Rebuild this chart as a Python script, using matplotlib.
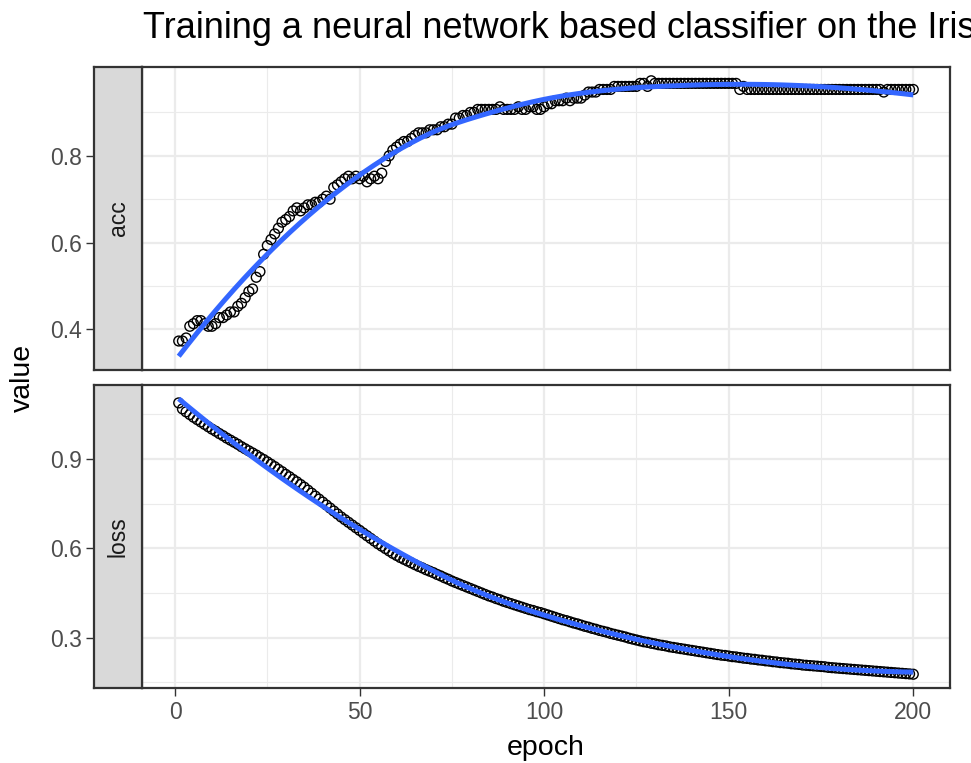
import numpy as np
import matplotlib
matplotlib.use("Agg")
import matplotlib.pyplot as plt

plt.rcParams['font.family'] = ['Liberation Sans', 'DejaVu Sans']

title = "Training a neural network based classifier on the Iris dataset"
x_label = "epoch"
y_label = "value"
metrics = ["acc", "loss"]

epochs = list(range(1, 201))

acc = [
    0.373, 0.373, 0.380, 0.407, 0.413, 0.420, 0.420, 0.413, 0.407, 0.407,
    0.413, 0.427, 0.427, 0.433, 0.440, 0.440, 0.453, 0.460, 0.473, 0.487,
    0.493, 0.520, 0.533, 0.573, 0.593, 0.607, 0.620, 0.633, 0.647, 0.653,
    0.660, 0.673, 0.680, 0.673, 0.680, 0.687, 0.687, 0.693, 0.693, 0.700,
    0.707, 0.700, 0.727, 0.733, 0.740, 0.747, 0.753, 0.747, 0.753, 0.747,
    0.753, 0.740, 0.747, 0.753, 0.747, 0.760, 0.787, 0.800, 0.813, 0.820,
    0.827, 0.833, 0.833, 0.840, 0.847, 0.853, 0.853, 0.853, 0.860, 0.860,
    0.860, 0.867, 0.867, 0.873, 0.873, 0.887, 0.887, 0.893, 0.893, 0.900,
    0.900, 0.907, 0.907, 0.907, 0.907, 0.907, 0.907, 0.913, 0.907, 0.907,
    0.907, 0.907, 0.913, 0.907, 0.907, 0.913, 0.913, 0.907, 0.907, 0.913,
    0.920, 0.920, 0.927, 0.927, 0.927, 0.933, 0.927, 0.933, 0.933, 0.933,
    0.940, 0.947, 0.947, 0.947, 0.953, 0.953, 0.953, 0.953, 0.960, 0.960,
    0.960, 0.960, 0.960, 0.960, 0.960, 0.967, 0.967, 0.960, 0.973, 0.967,
    0.967, 0.967, 0.967, 0.967, 0.967, 0.967, 0.967, 0.967, 0.967, 0.967,
    0.967, 0.967, 0.967, 0.967, 0.967, 0.967, 0.967, 0.967, 0.967, 0.967,
    0.967, 0.967, 0.953, 0.960, 0.953, 0.953, 0.953, 0.953, 0.953, 0.953,
    0.953, 0.953, 0.953, 0.953, 0.953, 0.953, 0.953, 0.953, 0.953, 0.953,
    0.953, 0.953, 0.953, 0.953, 0.953, 0.953, 0.953, 0.953, 0.953, 0.953,
    0.953, 0.953, 0.953, 0.953, 0.953, 0.953, 0.953, 0.953, 0.953, 0.953,
    0.953, 0.947, 0.953, 0.953, 0.953, 0.953, 0.953, 0.953, 0.953, 0.953,
]

loss = [
    1.088, 1.068, 1.058, 1.049, 1.040, 1.032, 1.024, 1.016, 1.008, 1.000,
    0.993, 0.985, 0.978, 0.970, 0.963, 0.956, 0.949, 0.941, 0.934, 0.927,
    0.920, 0.913, 0.905, 0.898, 0.890, 0.882, 0.874, 0.865, 0.857, 0.848,
    0.840, 0.831, 0.823, 0.814, 0.805, 0.795, 0.785, 0.775, 0.765, 0.755,
    0.745, 0.735, 0.725, 0.715, 0.705, 0.696, 0.687, 0.678, 0.669, 0.660,
    0.651, 0.642, 0.633, 0.624, 0.615, 0.607, 0.599, 0.591, 0.583, 0.576,
    0.569, 0.563, 0.557, 0.551, 0.545, 0.539, 0.534, 0.528, 0.523, 0.518,
    0.512, 0.507, 0.501, 0.496, 0.490, 0.485, 0.480, 0.475, 0.470, 0.465,
    0.460, 0.455, 0.450, 0.445, 0.440, 0.436, 0.431, 0.427, 0.422, 0.418,
    0.414, 0.410, 0.406, 0.402, 0.398, 0.394, 0.391, 0.387, 0.384, 0.380,
    0.376, 0.372, 0.368, 0.364, 0.360, 0.357, 0.353, 0.349, 0.346, 0.342,
    0.338, 0.335, 0.331, 0.328, 0.324, 0.321, 0.318, 0.314, 0.311, 0.308,
    0.305, 0.302, 0.298, 0.295, 0.292, 0.289, 0.286, 0.284, 0.281, 0.279,
    0.276, 0.274, 0.272, 0.269, 0.267, 0.265, 0.263, 0.261, 0.259, 0.257,
    0.255, 0.253, 0.251, 0.249, 0.247, 0.245, 0.243, 0.241, 0.240, 0.238,
    0.236, 0.235, 0.233, 0.231, 0.230, 0.228, 0.227, 0.225, 0.224, 0.222,
    0.221, 0.219, 0.218, 0.216, 0.215, 0.214, 0.212, 0.211, 0.210, 0.208,
    0.207, 0.206, 0.205, 0.204, 0.203, 0.202, 0.200, 0.199, 0.198, 0.197,
    0.196, 0.195, 0.194, 0.193, 0.192, 0.191, 0.190, 0.189, 0.188, 0.187,
    0.186, 0.185, 0.184, 0.183, 0.182, 0.181, 0.180, 0.179, 0.178, 0.177,
]

x_ticks = [0, 50, 100, 150, 200]
y_ticks = {"acc": [0.4, 0.6, 0.8], "loss": [0.3, 0.6, 0.9]}


def loess(x, y, xs, span=0.75):
    """Local quadratic regression with tricube weights (like R's loess)."""
    x = np.asarray(x, float)
    y = np.asarray(y, float)
    n = len(x)
    q = int(np.floor(span * n))
    out = []
    for x0 in xs:
        d = np.abs(x - x0)
        h = np.sort(d)[q - 1]
        w = np.clip(1 - (d / h) ** 3, 0, None) ** 3
        X = np.column_stack([np.ones(n), x - x0, (x - x0) ** 2])
        W = np.sqrt(w)
        beta, *_ = np.linalg.lstsq(X * W[:, None], y * W, rcond=None)
        out.append(beta[0])
    return np.array(out)


W_PX, H_PX = 971, 763
fig = plt.figure(figsize=(W_PX / 100, H_PX / 100), dpi=100)

strip_l, strip_r = 94, 142
pan_l, pan_r = 142, 950
panels = {"acc": (67, 370), "loss": (385, 688)}

def fx(px):
    return px / W_PX

def fy(py):
    return 1 - py / H_PX

grey20 = "#333333"
grid_c = "#EBEBEB"
xs_all = np.array(epochs, float)
xr = xs_all.max() - xs_all.min()
xlim = (xs_all.min() - 0.05 * xr, xs_all.max() + 0.05 * xr)

series = {"acc": acc, "loss": loss}
for i, m in enumerate(metrics):
    top, bot = panels[m]
    ax = fig.add_axes([fx(pan_l), fy(bot), fx(pan_r - pan_l), (bot - top) / H_PX])
    sax = fig.add_axes([fx(strip_l), fy(bot), fx(strip_r - strip_l), (bot - top) / H_PX], sharey=ax)

    vals = np.array(series[m], float)
    xs = np.linspace(min(epochs), max(epochs), 80)
    sm = loess(epochs, vals, xs)

    lo = min(vals.min(), sm.min())
    hi = max(vals.max(), sm.max())
    r = hi - lo
    ylim = (lo - 0.05 * r, hi + 0.05 * r)

    ax.set_facecolor("white")
    ax.set_xlim(*xlim)
    ax.set_ylim(*ylim)

    yt = y_ticks[m]
    step = yt[1] - yt[0]
    ext = [yt[0] - step] + yt + [yt[-1] + step]
    yminor = [(a + b) / 2 for a, b in zip(ext[:-1], ext[1:])]
    xext = [x_ticks[0] - 50] + x_ticks + [x_ticks[-1] + 50]
    xminor = [(a + b) / 2 for a, b in zip(xext[:-1], xext[1:])]

    for v in yminor:
        if ylim[0] < v < ylim[1]:
            ax.axhline(v, color=grid_c, lw=0.8, zorder=0)
    for v in xminor:
        if xlim[0] < v < xlim[1]:
            ax.axvline(v, color=grid_c, lw=0.8, zorder=0)
    for v in yt:
        ax.axhline(v, color=grid_c, lw=1.6, zorder=0)
    for v in x_ticks:
        ax.axvline(v, color=grid_c, lw=1.6, zorder=0)

    ax.scatter(epochs, vals, s=50, facecolors="none", edgecolors="black",
               linewidths=1.0, zorder=2)
    ax.plot(xs, sm, color="#3366FF", lw=3.6, zorder=3, solid_capstyle="butt")

    for sp in ax.spines.values():
        sp.set_color(grey20)
        sp.set_linewidth(1.6)
        sp.set_zorder(5)

    ax.tick_params(axis="y", left=False, labelleft=False)
    ax.set_yticks(yt)
    ax.set_xticks(x_ticks)
    if i == len(metrics) - 1:
        ax.tick_params(axis="x", direction="out", length=5.5, width=1.0,
                       color=grey20, labelsize=16.5, labelcolor="#4D4D4D", pad=4)
    else:
        ax.tick_params(axis="x", bottom=False, labelbottom=False)

    # strip with y axis on its left
    sax.set_facecolor("#D9D9D9")
    sax.set_xticks([])
    sax.tick_params(axis="y", direction="out", length=5.5, width=1.0,
                    color=grey20, labelsize=16.5, labelcolor="#4D4D4D", pad=3)
    sax.set_yticks(yt)
    sax.set_yticklabels([f"{v:g}" for v in yt])
    for sp in sax.spines.values():
        sp.set_color(grey20)
        sp.set_linewidth(1.6)
    sax.text(0.5, 0.5, m, transform=sax.transAxes, rotation=90,
             ha="center", va="center", fontsize=16.5, color="#1A1A1A")

fig.text(fx(143), fy(38), title, fontsize=26, ha="left", va="baseline",
         color="black")
fig.text(fx((pan_l + pan_r) / 2), fy(755), x_label, fontsize=20.5,
         ha="center", va="baseline", color="black")
fig.text(fx(23), fy((67 + 688) / 2), y_label, fontsize=20.5, rotation=90,
         ha="center", va="center", color="black")

fig.savefig("out.png", dpi=100)
